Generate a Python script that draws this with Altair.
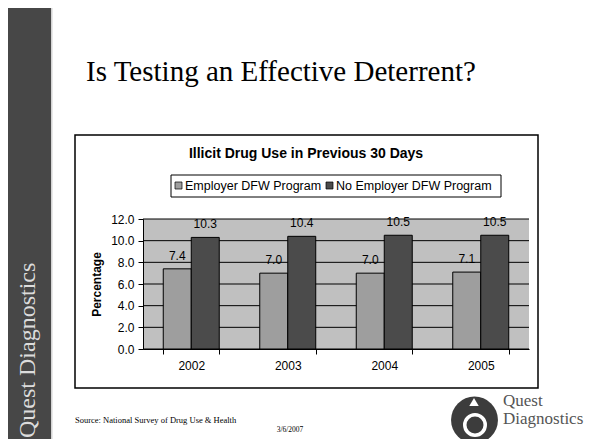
import altair as alt
import pandas as pd

# ---- data ----
years = ["2002", "2003", "2004", "2005"]
employer = [7.4, 7.0, 7.0, 7.1]
no_employer = [10.3, 10.4, 10.5, 10.5]
series = ["Employer DFW Program", "No Employer DFW Program"]
colors = ["#9E9E9E", "#4B4B4B"]
y_ticks = [0, 2, 4, 6, 8, 10, 12]

slide_title = "Is Testing an Effective Deterrent?"
chart_title = "Illicit Drug Use in Previous 30 Days"
y_title = "Percentage"
sidebar_text = "Quest Diagnostics"
source_text = "Source: National Survey of Drug Use & Health"
date_text = "3/6/2007"
logo_top = "Quest"
logo_bottom = "Diagnostics"

rows = []
for i, yr in enumerate(years):
    rows.append({"year": yr, "series": series[0], "value": employer[i]})
    rows.append({"year": yr, "series": series[1], "value": no_employer[i]})
df = pd.DataFrame(rows)
grid_df = pd.DataFrame({"value": y_ticks})
one = pd.DataFrame({"d": [0]})

# plot area size and page position of its origin
PW, PH = 386, 130
OX, OY = 143, 219
TOTAL_W, TOTAL_H = 576, 431


def px(x):
    return x - OX


def py(y):
    return y - OY


SANS = "Liberation Sans"
SERIF = "Liberation Serif"
base = alt.Chart(one)


def rect(x1, x2, y1, y2, **kw):
    return base.mark_rect(**kw).encode(
        x=alt.value(px(x1)), x2=alt.value(px(x2)),
        y=alt.value(py(y1)), y2=alt.value(py(y2)))


def text(t, x, y, **kw):
    return base.mark_text(**kw).encode(
        x=alt.value(px(x)), y=alt.value(py(y)), text=alt.value(t))


y_scale = alt.Scale(domain=[0, 12], nice=False)
y_axis = alt.Axis(values=y_ticks, format=".1f", title=y_title,
                  tickSize=5, labelPadding=4, titlePadding=7,
                  grid=False, zindex=1)

sidebar = rect(8, 51, 8, 447, color="#474747")
sidebar_line = rect(51, 52.5, 8, 447, color="#D4D4D4")
box = rect(75, 538, 135, 388, fill="white", stroke="black", strokeWidth=1.5)
plot_bg = rect(OX, OX + PW, OY, OY + PH, color="#C0C0C0")

grid = alt.Chart(grid_df).mark_rule(color="black", strokeWidth=1).encode(
    y=alt.Y("value:Q", scale=y_scale, axis=y_axis),
    x=alt.value(0), x2=alt.value(PW))

bars = alt.Chart(df).mark_bar(stroke="black", strokeWidth=1).encode(
    x=alt.X("year:N", sort=years,
            scale=alt.Scale(paddingInner=0.42, paddingOuter=0.21),
            axis=alt.Axis(title=None, labelAngle=0, tickBand="extent",
                          tickSize=5, labelPadding=6, grid=False, zindex=1)),
    xOffset=alt.XOffset("series:N", sort=series,
                        scale=alt.Scale(paddingInner=0, paddingOuter=0)),
    y=alt.Y("value:Q", scale=y_scale, axis=y_axis),
    color=alt.Color("series:N", sort=series,
                    scale=alt.Scale(domain=series, range=colors), legend=None),
)

labels = alt.Chart(df).mark_text(font=SANS, fontSize=12, baseline="alphabetic",
                                 dy=-9, color="black").encode(
    x=alt.X("year:N", sort=years),
    xOffset=alt.XOffset("series:N", sort=series),
    y=alt.Y("value:Q", scale=y_scale, axis=y_axis),
    text=alt.Text("value:Q", format=".1f"))

legend_box = rect(171, 501, 175, 197, fill="white", stroke="black", strokeWidth=1)
leg_m1 = rect(175, 182, 182, 189, color=colors[0], stroke="black", strokeWidth=0.7)
leg_m2 = rect(326, 333, 182, 189, color=colors[1], stroke="black", strokeWidth=0.7)
leg_t1 = text(series[0], 185, 186, font=SANS, fontSize=12.5, align="left",
              baseline="middle", color="black")
leg_t2 = text(series[1], 336, 186, font=SANS, fontSize=12.5, align="left",
              baseline="middle", color="black")

ctitle = text(chart_title, 306, 154, font=SANS, fontSize=14, fontWeight="bold",
              align="center", baseline="middle", color="black")
stitle = text(slide_title, 86, 81, font=SERIF, fontSize=29, align="left",
              baseline="alphabetic", color="black")
side_t = text(sidebar_text, 28, 438, font=SERIF, fontSize=24, angle=270,
              align="left", baseline="middle", color="#DCDCDC")
src = text(source_text, 75, 423, font=SERIF, fontSize=8.5, align="left",
           baseline="alphabetic", color="black")
date = text(date_text, 290, 432, font=SERIF, fontSize=7.5, align="center",
            baseline="alphabetic", color="black")

logo_circle = base.mark_point(shape="circle", filled=True, color="#3C3C3C",
                              size=2200, opacity=1).encode(
    x=alt.value(px(474.5)), y=alt.value(py(420)))
logo_ring = base.mark_point(shape="circle", filled=False, color="white",
                            strokeWidth=3.5, size=420, opacity=1).encode(
    x=alt.value(px(475)), y=alt.value(py(425)))
logo_star = base.mark_point(shape="triangle-up", filled=True, color="white",
                            size=90, opacity=1).encode(
    x=alt.value(px(474)), y=alt.value(py(402)))
logo_t1 = text(logo_top, 503, 406, font=SERIF, fontSize=17, align="left",
               baseline="alphabetic", color="#555555")
logo_t2 = text(logo_bottom, 503, 424, font=SERIF, fontSize=17, align="left",
               baseline="alphabetic", color="#555555")

chart = alt.layer(
    sidebar, sidebar_line, box, plot_bg, grid, bars, labels,
    legend_box, leg_m1, leg_m2, leg_t1, leg_t2, ctitle, stitle, side_t,
    src, date, logo_circle, logo_ring, logo_star, logo_t1, logo_t2,
).properties(
    width=PW, height=PH,
    padding={"left": OX - 8, "top": OY - 8,
             "right": TOTAL_W - (OX - 8 + PW),
             "bottom": TOTAL_H - (OY - 8 + PH)},
    autosize=alt.AutoSizeParams(type="none"),
    background="white",
).configure_view(stroke=None).configure_axis(
    labelFont=SANS, labelFontSize=12, labelColor="black",
    titleFont=SANS, titleFontSize=12, titleFontWeight="bold", titleColor="black",
    domainColor="black", tickColor="black",
)

chart.save("out.html", embed_options={"renderer": "svg", "actions": False})
